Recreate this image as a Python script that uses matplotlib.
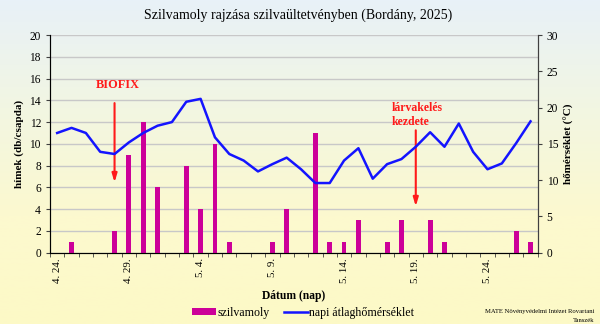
import numpy as np
import matplotlib
matplotlib.use("Agg")
import matplotlib.pyplot as plt
from matplotlib.colors import LinearSegmentedColormap

# dates 4.24 .. 5.27
days = ["4. %d." % d for d in range(24, 31)] + ["5. %d." % d for d in range(1, 28)]

# moth catches (db/csapda)
szilvamoly = [0, 1, 0, 0, 2, 9, 12, 6, 0, 8, 4, 10, 1, 0, 0, 1, 4, 0, 11, 1,
              1, 3, 0, 1, 3, 0, 3, 1, 0, 0, 0, 0, 2, 1]

# daily mean temperature (°C)
homerseklet = [16.5, 17.2, 16.5, 13.9, 13.6, 15.2, 16.5, 17.5, 18.0, 20.8,
               21.2, 15.9, 13.6, 12.7, 11.2, 12.2, 13.1, 11.5, 9.6, 9.6,
               12.7, 14.4, 10.2, 12.2, 12.9, 14.6, 16.6, 14.6, 17.8, 13.9,
               11.5, 12.3, 15.1, 18.1]

label_idx = [0, 5, 10, 15, 20, 25, 30]

plt.rcParams['font.family'] = ['Liberation Serif', 'DejaVu Serif']

fig = plt.figure(figsize=(6, 3.24), dpi=100)

# background gradient
bg = fig.add_axes([0, 0, 1, 1], zorder=-10)
cmap = LinearSegmentedColormap.from_list("bg", ["#e8f1f8", "#f2f6e2", "#fcf9cf", "#fdf9c6"])
grad = np.linspace(0, 1, 256).reshape(-1, 1)
bg.imshow(grad, aspect='auto', cmap=cmap, extent=[0, 1, 0, 1])
bg.axis('off')

ax = fig.add_axes([50/600, 1-252.7/324, (537.7-50)/600, (252.7-35)/324])
ax.patch.set_alpha(0)
x = np.arange(len(days))

ax.bar(x, szilvamoly, width=0.34, color='#cc0099', label='szilvamoly', zorder=3)
ax.set_xlim(-0.5, len(days) - 0.5)
ax.set_ylim(0, 20)
ax.set_yticks(range(0, 21, 2))
ax.yaxis.grid(True, color='#c8c8c8', lw=1, zorder=0)
ax.set_axisbelow(True)
ax.set_xticks(label_idx)
ax.set_xticklabels([days[i] for i in label_idx], rotation=90, fontsize=7.8)
ax.set_xticks(np.arange(-0.5, len(days), 1), minor=True)
ax.tick_params(axis='x', which='major', length=0, pad=4)
ax.tick_params(axis='x', which='minor', length=3, direction='out', color='#404040')
ax.tick_params(axis='y', labelsize=8.3, length=3, color='#404040')
ax.spines['top'].set_visible(False)
for s in ['left', 'bottom', 'right']:
    ax.spines[s].set_color('#404040')
ax.set_ylabel('hímek (db/csapda)', fontsize=8, fontweight='bold', labelpad=4)
ax.set_xlabel('Dátum (nap)', fontsize=8.3, fontweight='bold', labelpad=5)

ax2 = ax.twinx()
ax2.plot(x, homerseklet, color='#1414ff', lw=1.8, label='napi átlaghőmérséklet', zorder=4)
ax2.set_ylim(0, 30)
ax2.set_yticks(range(0, 31, 5))
ax2.tick_params(axis='y', labelsize=8.3, length=3, color='#404040')
ax2.spines['top'].set_visible(False)
ax2.spines['right'].set_color('#404040')
ax2.set_ylabel('hőmérséklet (°C)', fontsize=8, fontweight='bold', labelpad=4)

# annotations
ax.text(4.25, 15.4, 'BIOFIX', color='#ff1a1a', fontsize=8.8, fontweight='bold', ha='center', va='center')
ax.annotate('', xy=(4, 6.2), xytext=(4, 14),
            arrowprops=dict(arrowstyle='-|>,head_width=0.15,head_length=0.5', color='#ff1a1a', lw=1.5),
            zorder=5)
ax.text(23.35, 13.3, 'lárvakelés', color='#ff1a1a', fontsize=8.5, fontweight='bold', ha='left', va='center')
ax.text(23.35, 12.0, 'kezdete', color='#ff1a1a', fontsize=8.5, fontweight='bold', ha='left', va='center')
ax.annotate('', xy=(25, 4.0), xytext=(25, 11.5),
            arrowprops=dict(arrowstyle='-|>,head_width=0.15,head_length=0.5', color='#ff1a1a', lw=1.5),
            zorder=5)

fig.suptitle('Szilvamoly rajzása szilvaültetvényben (Bordány, 2025)', fontsize=10, y=0.975, x=0.497)

h1, l1 = ax.get_legend_handles_labels()
h2, l2 = ax2.get_legend_handles_labels()
fig.legend(h1 + h2, l1 + l2, loc='center', bbox_to_anchor=(0.505, 1-313/324), ncol=2,
           frameon=False, fontsize=8.6, handlelength=2.0, handleheight=0.5,
           columnspacing=1.2, handletextpad=0.1)

fig.text(0.99, 1-312/324, 'MATE Növényvédelmi Intézet Rovartani', fontsize=4.8, ha='right', va='center')
fig.text(0.99, 1-320/324, 'Tanszék', fontsize=4.8, ha='right', va='center')

fig.savefig('out.png', dpi=100)
